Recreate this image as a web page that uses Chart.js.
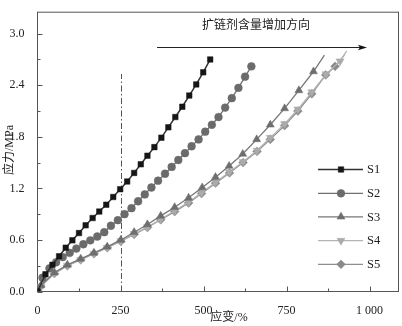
<!DOCTYPE html>
<html><head><meta charset="utf-8">
<script src="https://cdn.jsdelivr.net/npm/chart.js@4/dist/chart.umd.min.js"></script>
<style>html,body{margin:0;padding:0;background:#fff}#wrap{width:402px;height:326px;position:relative}</style>
</head><body><div id="wrap"><canvas id="c" width="402" height="326"></canvas></div>
<script>
// ---- data (strain %, stress MPa) ----
const s1Strain = [0, 24, 45, 65, 85, 105, 125, 145, 166, 186, 207, 228, 249, 270, 291, 311, 331, 352, 373, 394, 415, 436, 457, 478, 499, 520];
const s1Stress = [0, 0.20, 0.31, 0.41, 0.51, 0.595, 0.68, 0.77, 0.855, 0.93, 1.01, 1.10, 1.19, 1.28, 1.38, 1.48, 1.58, 1.68, 1.79, 1.91, 2.03, 2.15, 2.28, 2.41, 2.55, 2.70];
const s2Strain = [0, 15, 36, 56, 76, 97, 117, 138, 159, 180, 201, 221, 242, 262, 283, 303, 323, 343, 363, 384, 404, 424, 444, 464, 485, 505, 525, 545, 565, 585, 605, 625, 644];
const s2Stress = [0, 0.16, 0.27, 0.34, 0.40, 0.45, 0.50, 0.55, 0.595, 0.64, 0.69, 0.765, 0.83, 0.90, 0.97, 1.05, 1.13, 1.21, 1.29, 1.37, 1.45, 1.53, 1.61, 1.69, 1.77, 1.86, 1.94, 2.03, 2.14, 2.25, 2.37, 2.50, 2.62];
const s3Strain = [0, 10, 51, 90, 130, 170, 210, 251, 291, 331, 371, 413, 455, 496, 536, 577, 618, 660, 701, 744, 787, 831, 864];
const s3Stress = [0, 0.07, 0.22, 0.31, 0.38, 0.45, 0.52, 0.60, 0.69, 0.78, 0.88, 0.98, 1.09, 1.21, 1.33, 1.46, 1.60, 1.77, 1.94, 2.13, 2.34, 2.56, 2.75];
const s4Strain = [0, 10, 51, 90, 130, 170, 210, 251, 291, 331, 371, 413, 455, 494, 536, 578, 619, 661, 701, 744, 784, 826, 869, 911, 931];
const s4Stress = [0, 0.06, 0.21, 0.30, 0.37, 0.44, 0.51, 0.59, 0.67, 0.75, 0.84, 0.94, 1.04, 1.15, 1.27, 1.39, 1.51, 1.64, 1.79, 1.95, 2.12, 2.32, 2.53, 2.68, 2.80];
const s5Strain = [0, 10, 51, 90, 130, 170, 210, 251, 291, 331, 371, 413, 455, 494, 536, 578, 619, 661, 701, 744, 784, 826, 868, 896, 924];
const s5Stress = [0, 0.06, 0.21, 0.30, 0.37, 0.44, 0.51, 0.585, 0.665, 0.745, 0.835, 0.93, 1.03, 1.14, 1.26, 1.38, 1.50, 1.63, 1.77, 1.93, 2.10, 2.30, 2.52, 2.62, 2.75];
const seriesNames = ['S1', 'S2', 'S3', 'S4', 'S5'];
const xTickVals = [0, 125, 250, 375, 500, 625, 750, 875, 1000];
const xTickLabels = {0: '0', 250: '250', 500: '500', 750: '750', 1000: '1 000'};
const yTickVals = [0, 0.3, 0.6, 0.9, 1.2, 1.5, 1.8, 2.1, 2.4, 2.7, 3.0];
const yTickLabels = {0: '0.0', 0.6: '0.6', 1.2: '1.2', 1.8: '1.8', 2.4: '2.4', 3.0: '3.0'};
const xTitle = '应变/%';
const yTitle = '应力/MPa';
const arrowText = '扩链剂含量增加方向';
const refStrain = 250;
const refTop = 2.53;
const arrowFrom = [360, 2.85];
const arrowTo = [992, 2.85];

const FONT = "'Liberation Serif', 'Noto Sans CJK SC', serif";
const pts = (xs, ys) => xs.map((x, i) => ({x: x, y: ys[i]}));
const styles = [
  {line: '#333', fill: '#161616', stroke: '#161616', style: 'rect', r: 3.9, rot: 0, w: 1.5},
  {line: '#707070', fill: '#6b6b6b', stroke: '#6b6b6b', style: 'circle', r: 3.9, rot: 0, w: 1.3},
  {line: '#777', fill: '#6e6e6e', stroke: '#6e6e6e', style: 'triangle', r: 4.6, rot: 0, w: 1.3},
  {line: '#b5b5b5', fill: '#ababab', stroke: '#ababab', style: 'triangle', r: 4.6, rot: 180, w: 1.3},
  {line: '#8e8e8e', fill: '#8a8a8a', stroke: '#8a8a8a', style: 'rectRot', r: 4.4, rot: 0, w: 1.3}
];
const allData = [pts(s1Strain, s1Stress), pts(s2Strain, s2Stress), pts(s3Strain, s3Stress), pts(s4Strain, s4Stress), pts(s5Strain, s5Stress)];
const noMarkerLast = [false, false, true, true, true];

const datasets = allData.map((d, i) => ({
  label: seriesNames[i], data: d, showLine: true,
  borderColor: styles[i].line, borderWidth: styles[i].w,
  pointBackgroundColor: styles[i].fill, pointBorderColor: styles[i].stroke, pointBorderWidth: 0.5,
  pointStyle: styles[i].style, pointRotation: styles[i].rot,
  pointRadius: (ctx) => (noMarkerLast[i] && ctx.dataIndex === d.length - 1) ? 0 : styles[i].r,
  tension: 0
}));

const deco = {
  id: 'deco',
  beforeDatasetsDraw(chart) {
    const {ctx, chartArea: a, scales: {x, y}} = chart;
    ctx.save();
    ctx.strokeStyle = '#555'; ctx.lineWidth = 1;
    ctx.strokeRect(a.left, a.top, a.right - a.left, a.bottom - a.top);
    xTickVals.forEach(v => {
      const px = Math.round(x.getPixelForValue(v)) + 0.5;
      const len = xTickLabels[v] !== undefined ? 5 : 3;
      ctx.beginPath(); ctx.moveTo(px, a.bottom); ctx.lineTo(px, a.bottom - len); ctx.stroke();
    });
    yTickVals.forEach(v => {
      const py = Math.round(y.getPixelForValue(v)) + 0.5;
      const key = Math.round(v * 10) / 10;
      const len = yTickLabels[key] !== undefined ? 5 : 3;
      ctx.beginPath(); ctx.moveTo(a.left, py); ctx.lineTo(a.left + len, py); ctx.stroke();
    });
    const rx = Math.round(x.getPixelForValue(refStrain)) + 0.5;
    ctx.setLineDash([6, 2.5, 1.5, 2.5]); ctx.strokeStyle = '#555';
    ctx.beginPath(); ctx.moveTo(rx, a.bottom); ctx.lineTo(rx, y.getPixelForValue(refTop)); ctx.stroke();
    ctx.setLineDash([]);
    ctx.restore();
  },
  afterDraw(chart) {
    const {ctx, chartArea: a, scales: {x, y}} = chart;
    ctx.save();
    const ax0 = x.getPixelForValue(arrowFrom[0]), ay = Math.round(y.getPixelForValue(arrowFrom[1])) + 0.5;
    const ax1 = x.getPixelForValue(arrowTo[0]);
    ctx.strokeStyle = '#222'; ctx.lineWidth = 1;
    ctx.beginPath(); ctx.moveTo(ax0, ay); ctx.lineTo(ax1 - 6, ay); ctx.stroke();
    ctx.fillStyle = '#111';
    ctx.beginPath(); ctx.moveTo(ax1, ay); ctx.lineTo(ax1 - 9, ay - 2.8); ctx.lineTo(ax1 - 7, ay); ctx.lineTo(ax1 - 9, ay + 2.8); ctx.closePath(); ctx.fill();
    ctx.fillStyle = '#222'; ctx.font = '12px ' + FONT; ctx.textAlign = 'center'; ctx.textBaseline = 'middle';
    ctx.fillText(arrowText, 256, 26);
    const rows = [169.5, 193.3, 216.8, 240.6, 264.3];
    rows.forEach((ry, i) => {
      const s = styles[i];
      ctx.strokeStyle = s.line; ctx.lineWidth = s.w;
      ctx.beginPath(); ctx.moveTo(318, ry); ctx.lineTo(363, ry); ctx.stroke();
      ctx.fillStyle = s.fill; ctx.strokeStyle = s.stroke; ctx.lineWidth = 0.5;
      Chart.helpers.drawPoint(ctx, {pointStyle: s.style, radius: s.r, rotation: s.rot, borderWidth: 0.5}, 341, ry);
      ctx.fillStyle = '#222'; ctx.font = '12.5px ' + FONT; ctx.textAlign = 'left'; ctx.textBaseline = 'middle';
      ctx.fillText(seriesNames[i], 367, ry + 0.5);
    });
    ctx.fillStyle = '#222'; ctx.font = '12px ' + FONT; ctx.textAlign = 'center'; ctx.textBaseline = 'middle';
    ctx.fillText(xTitle, 229, 318);
    ctx.translate(10, 150); ctx.rotate(-Math.PI / 2);
    ctx.fillText(yTitle, 0, 0);
    ctx.restore();
  }
};

new Chart(document.getElementById('c'), {
  type: 'scatter',
  data: {datasets: datasets},
  options: {
    responsive: false, animation: false, devicePixelRatio: 1,
    layout: {autoPadding: false, padding: {top: 0.5, right: 3.5, left: 0, bottom: 0}},
    plugins: {legend: {display: false}, tooltip: {enabled: false}},
    scales: {
      x: {
        type: 'linear', min: 0, max: 1087,
        afterBuildTicks: s => { s.ticks = xTickVals.map(v => ({value: v})); },
        afterFit: s => { s.height = 34.5; },
        grid: {display: false}, border: {display: false},
        ticks: {autoSkip: false, maxRotation: 0, padding: 4, color: '#222', font: {family: FONT, size: 12},
          callback: v => xTickLabels[v] !== undefined ? xTickLabels[v] : ''}
      },
      y: {
        type: 'linear', min: 0, max: 3.25,
        afterBuildTicks: s => { s.ticks = yTickVals.map(v => ({value: v})); },
        afterFit: s => { s.width = 37.5; },
        grid: {display: false}, border: {display: false},
        ticks: {autoSkip: false, padding: 5, color: '#222', font: {family: FONT, size: 12},
          callback: v => { const k = Math.round(v * 10) / 10; return yTickLabels[k] !== undefined ? yTickLabels[k] : ''; }}
      }
    }
  },
  plugins: [deco]
});
</script></body></html>
